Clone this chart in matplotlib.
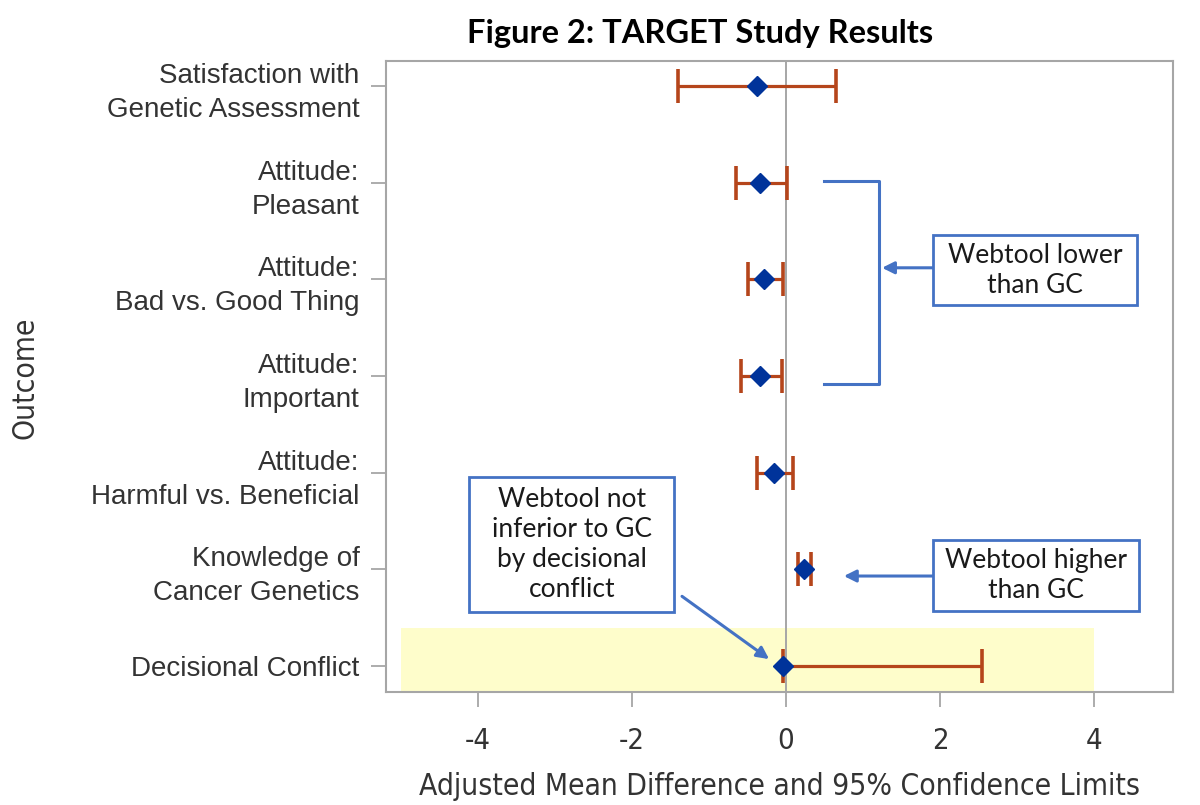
import matplotlib.pyplot as plt
from matplotlib.patches import Rectangle
from matplotlib import font_manager

# outcome rows, top to bottom
outcomes = ["Satisfaction with\nGenetic Assessment",
            "Attitude:\nPleasant",
            "Attitude:\nBad vs. Good Thing",
            "Attitude:\nImportant",
            "Attitude:\nHarmful vs. Beneficial",
            "Knowledge of\nCancer Genetics",
            "Decisional Conflict"]
means = [-0.38, -0.34, -0.29, -0.34, -0.16, 0.23, -0.04]
lower = [-1.40, -0.65, -0.50, -0.58, -0.38, 0.16, -0.04]
upper = [0.65, 0.01, -0.04, -0.05, 0.09, 0.32, 2.54]
xticks = [-4, -2, 0, 2, 4]

names = {f.name for f in font_manager.fontManager.ttflist}
narrow = ['Liberation Sans Narrow', 'DejaVu Sans'] if 'Liberation Sans Narrow' in names else ['DejaVu Sans']
regular = ['Liberation Sans', 'DejaVu Sans']
callout = ['Lato', 'DejaVu Sans']

blue = '#4472c4'
grey = '#a6a6a6'

fig = plt.figure(figsize=(12, 8.05), dpi=100)
ax = fig.add_axes([0.3217, 0.1404, 0.6558, 0.7838])

rows = list(range(len(outcomes)))

# non-inferiority highlight for decisional conflict
ax.add_patch(Rectangle((-5.0, 5.61), 9.0, 1.0, facecolor='#fefdcb', edgecolor='none', zorder=0))
ax.axvline(0, color=grey, lw=1.4, zorder=1)

xerr = [[m - l for m, l in zip(means, lower)], [u - m for m, u in zip(means, upper)]]
ax.errorbar(means, rows, xerr=xerr, fmt='none', ecolor='#b5451b', elinewidth=2.3,
            capsize=12, capthick=2.6, zorder=2)
ax.plot(means, rows, 'D', color='#00339a', ms=10, zorder=4)

ax.set_xlim(-5.19, 5.02)
ax.set_ylim(6.27, -0.26)
ax.set_xticks(xticks)
ax.set_xticklabels([str(t) for t in xticks], family=narrow, fontstretch='condensed',
                   fontsize=21, color='#333333')
ax.set_yticks(rows)
ax.set_yticklabels(outcomes, family=regular, fontsize=20, color='#333333', linespacing=1.4)
ax.tick_params(axis='both', length=11, width=1.3, color=grey)
ax.tick_params(axis='x', pad=14)
ax.tick_params(axis='y', pad=8)
for s in ax.spines.values():
    s.set_color(grey)
    s.set_linewidth(1.5)

ax.set_xlabel("Adjusted Mean Difference and 95% Confidence Limits", family=narrow,
              fontstretch='condensed', fontsize=21.5, color='#333333')
ax.xaxis.set_label_coords(0.5, -0.15)
ax.xaxis.label.set_va('center')
ax.set_ylabel("Outcome", family=narrow, fontstretch='condensed', fontsize=21.5, color='#333333')
ax.yaxis.set_label_coords(-0.4587, 0.4976)
ax.yaxis.label.set_va('center')

fig.text(0.583, 0.959, "Figure 2: TARGET Study Results", ha='center', va='center',
         family=callout, fontsize=23.5, fontweight='bold', color='black')

# bracket + callouts
ax.plot([0.49, 1.21, 1.21, 0.49], [0.98, 0.98, 3.08, 3.08], color=blue, lw=2.2, zorder=3)
arrow = dict(arrowstyle='-|>', color=blue, lw=2.2, mutation_scale=18, shrinkA=0, shrinkB=0)
ax.annotate('', xy=(1.245, 1.88), xytext=(1.91, 1.88), arrowprops=arrow)
ax.annotate('', xy=(0.75, 5.07), xytext=(1.91, 5.07), arrowprops=arrow)
ax.annotate('', xy=(-0.22, 5.93), xytext=(-1.35, 5.28), arrowprops=arrow)

boxes = [((1.91, 1.54), 2.64, 0.73, "Webtool lower\nthan GC"),
         ((1.91, 4.70), 2.67, 0.73, "Webtool higher\nthan GC"),
         ((-4.11, 4.04), 2.66, 1.40, "Webtool not\ninferior to GC\nby decisional\nconflict")]
for (bx, by), bw, bh, txt in boxes:
    ax.add_patch(Rectangle((bx, by), bw, bh, facecolor='white', edgecolor=blue, lw=2, zorder=5))
    ax.text(bx + bw / 2, by + bh / 2, txt, ha='center', va='center', family=callout,
            fontsize=19, linespacing=1.25, color='#1a1a1a', zorder=6)

fig.savefig('out.png', dpi=100)
